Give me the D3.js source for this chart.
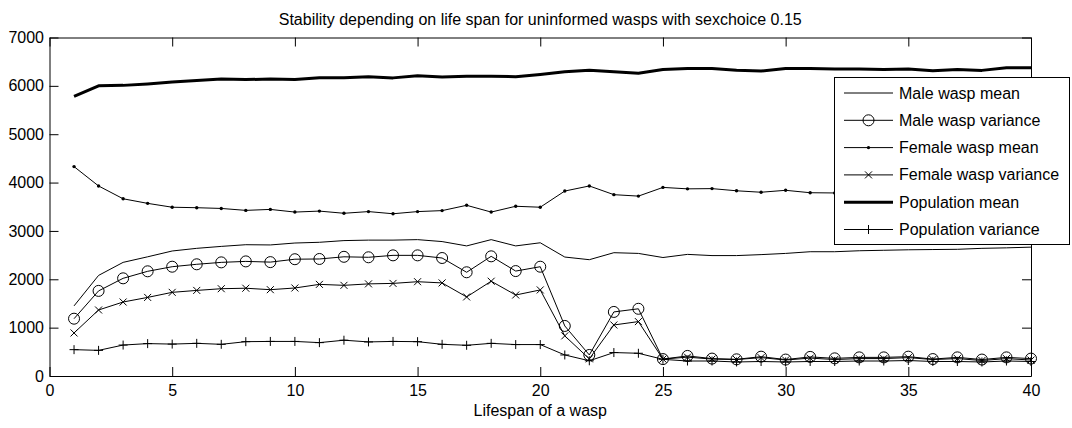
<!DOCTYPE html>
<html>
<head>
<meta charset="utf-8">
<script src="https://cdn.jsdelivr.net/npm/d3@7"></script>
<style>
  body { margin: 0; background: #fff; }
  svg { display: block; font-family: "Liberation Sans", Arial, sans-serif; }
</style>
</head>
<body>
<div id="box"></div>
<script>
var lifespan = [1, 2, 3, 4, 5, 6, 7, 8, 9, 10, 11, 12, 13, 14, 15, 16, 17, 18, 19, 20,
                21, 22, 23, 24, 25, 26, 27, 28, 29, 30, 31, 32, 33, 34, 35, 36, 37, 38, 39, 40];
var maleMean = [1450, 2080, 2350, 2465, 2585, 2640, 2680, 2715, 2710, 2750, 2765, 2800, 2810, 2810, 2820, 2780, 2690, 2820, 2690, 2755,
                2460, 2405, 2550, 2535, 2450, 2515, 2490, 2490, 2510, 2535, 2570, 2570, 2590, 2600, 2610, 2615, 2620, 2640, 2650, 2665];
var maleVar = [1185, 1760, 2020, 2165, 2260, 2310, 2350, 2370, 2355, 2415, 2420, 2465, 2455, 2495, 2495, 2440, 2145, 2475, 2170, 2260,
               1035, 435, 1325, 1390, 350, 415, 360, 345, 400, 340, 395, 365, 385, 385, 400, 350, 385, 340, 385, 360];
var femaleMean = [4330, 3930, 3665, 3570, 3490, 3480, 3465, 3425, 3445, 3390, 3410, 3365, 3400, 3355, 3400, 3420, 3530, 3390, 3510, 3490,
                  3825, 3930, 3750, 3720, 3900, 3870, 3875, 3830, 3800, 3840, 3790, 3785, 3790, 3800, 3780, 3790, 3800, 3780, 3790, 3800];
var femaleVar = [890, 1365, 1530, 1625, 1730, 1770, 1805, 1815, 1785, 1820, 1895, 1875, 1905, 1915, 1950, 1925, 1635, 1960, 1675, 1780,
                 830, 355, 1055, 1125, 350, 390, 350, 340, 380, 330, 370, 340, 360, 360, 380, 340, 360, 320, 360, 330];
var popMean = [5780, 6000, 6010, 6040, 6080, 6110, 6140, 6130, 6140, 6130, 6170, 6170, 6190, 6165, 6210, 6185, 6200, 6200, 6190, 6235,
               6290, 6325, 6290, 6260, 6340, 6360, 6360, 6325, 6305, 6360, 6360, 6350, 6350, 6340, 6350, 6310, 6340, 6320, 6375, 6375];
var popVar = [545, 530, 640, 670, 660, 675, 655, 710, 715, 715, 690, 740, 705, 715, 710, 655, 635, 675, 650, 650,
              435, 315, 485, 470, 345, 310, 310, 290, 300, 290, 300, 300, 310, 310, 320, 300, 300, 290, 310, 300];

var xTicks = [0, 5, 10, 15, 20, 25, 30, 35, 40];
var yTicks = [0, 1000, 2000, 3000, 4000, 5000, 6000, 7000];
var seriesNames = ["Male wasp mean", "Male wasp variance", "Female wasp mean",
                   "Female wasp variance", "Population mean", "Population variance"];

var title = "Stability depending on life span for uninformed wasps with sexchoice 0.15";
var xTitle = "Lifespan of a wasp";

document.addEventListener("DOMContentLoaded", function(e) {
    chart();
});

function chart(){
    var width = 1072;
    var height = 428;
    var left = 49.5, right = 1031, top = 37.5, bottom = 376;

    var svg = d3.select("#box")
        .append("svg")
        .attr("width", width)
        .attr("height", height);

    var x = d3.scaleLinear().domain([0, 40]).range([left, right]);
    var y = d3.scaleLinear().domain([0, 7000]).range([bottom, top]);

    var series = [
        {name: seriesNames[0], values: maleMean, marker: "none", width: 1},
        {name: seriesNames[1], values: maleVar, marker: "circle", width: 1},
        {name: seriesNames[2], values: femaleMean, marker: "dot", width: 1},
        {name: seriesNames[3], values: femaleVar, marker: "cross", width: 1},
        {name: seriesNames[4], values: popMean, marker: "none", width: 3},
        {name: seriesNames[5], values: popVar, marker: "plus", width: 1}
    ];

    // axes, ticks pointing inward on all four sides
    svg.append("g")
        .attr("transform", "translate(0," + bottom + ")")
        .call(d3.axisBottom(x).tickValues(xTicks).tickFormat(d3.format("d")).tickSizeInner(-9).tickSizeOuter(0).tickPadding(9))
        .call(styleAxis);
    svg.append("g")
        .attr("transform", "translate(0," + top + ")")
        .call(d3.axisTop(x).tickValues(xTicks).tickSizeInner(-9).tickSizeOuter(0).tickFormat(""))
        .call(styleAxis);
    svg.append("g")
        .attr("transform", "translate(" + left + ",0)")
        .call(d3.axisLeft(y).tickValues(yTicks).tickFormat(d3.format("d")).tickSizeInner(-9).tickSizeOuter(0).tickPadding(5.5))
        .call(styleAxis);
    svg.append("g")
        .attr("transform", "translate(" + right + ",0)")
        .call(d3.axisRight(y).tickValues(yTicks).tickSizeInner(-9).tickSizeOuter(0).tickFormat(""))
        .call(styleAxis);

    var line = d3.line()
        .x(function(d, i){ return x(lifespan[i]); })
        .y(function(d){ return y(d); });

    series.forEach(function(s){
        svg.append("path")
            .attr("d", line(s.values))
            .attr("fill", "none")
            .attr("stroke", "black")
            .attr("stroke-width", s.width)
            .attr("stroke-linejoin", "round");
        s.values.forEach(function(v, i){
            drawMarker(svg, s.marker, x(lifespan[i]), y(v));
        });
    });

    // legend
    var lx = 834, ly = 77, lw = 235, lh = 167;
    svg.append("rect")
        .attr("x", lx + 0.5).attr("y", ly + 0.5)
        .attr("width", lw).attr("height", lh)
        .attr("fill", "white").attr("stroke", "black");
    series.forEach(function(s, i){
        var cy = ly + 16 + i * 27.3;
        svg.append("line")
            .attr("x1", lx + 10).attr("x2", lx + 59)
            .attr("y1", cy).attr("y2", cy)
            .attr("stroke", "black").attr("stroke-width", s.width);
        drawMarker(svg, s.marker, lx + 34.5, cy);
        svg.append("text")
            .attr("x", lx + 65).attr("y", cy + 5.5)
            .attr("font-size", 16)
            .text(s.name);
    });

    svg.append("text")
        .attr("x", (left + right) / 2).attr("y", 25)
        .attr("text-anchor", "middle").attr("font-size", 16)
        .text(title);
    svg.append("text")
        .attr("x", (left + right) / 2).attr("y", 416)
        .attr("text-anchor", "middle").attr("font-size", 16)
        .text(xTitle);
}

function styleAxis(g){
    g.select(".domain").attr("stroke", "black").attr("stroke-width", 1);
    g.selectAll(".tick line").attr("stroke", "black");
    g.selectAll(".tick text")
        .attr("fill", "black")
        .attr("font-size", 16)
        .attr("font-family", "Liberation Sans, Arial, sans-serif");
}

function drawMarker(svg, type, cx, cy){
    if (type == "circle"){
        svg.append("circle").attr("cx", cx).attr("cy", cy).attr("r", 5.5)
            .attr("fill", "none").attr("stroke", "black");
    } else if (type == "dot"){
        svg.append("circle").attr("cx", cx).attr("cy", cy).attr("r", 1.7)
            .attr("fill", "black");
    } else if (type == "cross"){
        var h = 3.5;
        svg.append("path")
            .attr("d", "M" + (cx - h) + "," + (cy - h) + "L" + (cx + h) + "," + (cy + h) +
                       "M" + (cx - h) + "," + (cy + h) + "L" + (cx + h) + "," + (cy - h))
            .attr("stroke", "black");
    } else if (type == "plus"){
        var p = 4.5;
        svg.append("path")
            .attr("d", "M" + (cx - p) + "," + cy + "L" + (cx + p) + "," + cy +
                       "M" + cx + "," + (cy - p) + "L" + cx + "," + (cy + p))
            .attr("stroke", "black");
    }
}
</script>
</body>
</html>
